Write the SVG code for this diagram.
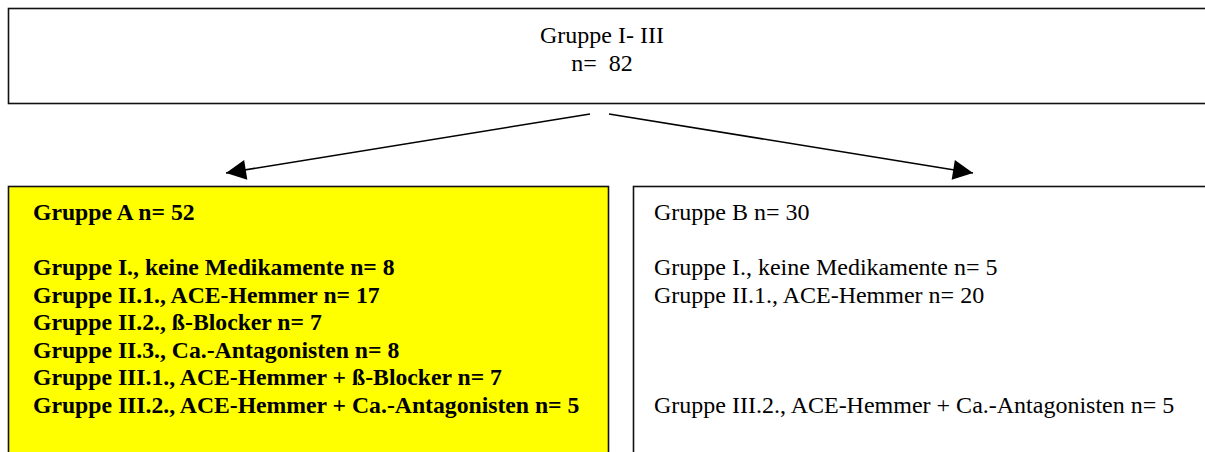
<svg xmlns="http://www.w3.org/2000/svg" width="1205" height="452" viewBox="0 0 1205 452">
  <style>
    .box { stroke: #111; stroke-width: 1.6; }
    .t { font-family: "Liberation Serif", "Times New Roman", serif; font-size: 24px; fill: #000; }
    .b { font-weight: bold; font-size: 23.7px; }
    .edge { stroke: #000; stroke-width: 1.6; fill: none; }
  </style>
  <defs>
    <marker id="head" viewBox="0 0 10 10" refX="10" refY="5" markerWidth="27" markerHeight="20" markerUnits="userSpaceOnUse" orient="auto">
      <path d="M0,0 L10,5 L0,10 Z" fill="#000"/>
    </marker>
  </defs>

  <!-- total group -->
  <g id="gruppe-gesamt">
    <rect class="box" x="8.5" y="8.5" width="1210" height="95" fill="#fff"/>
    <text class="t" x="602" y="43" text-anchor="middle">Gruppe I- III</text>
    <text class="t" x="602" y="71" text-anchor="middle" xml:space="preserve">n=  82</text>
  </g>

  <!-- group A -->
  <g id="gruppe-a">
    <rect class="box" x="8.5" y="186.5" width="600" height="280" fill="#ffff00"/>
    <text class="t b" x="33" y="220">Gruppe A n= 52</text>
    <text class="t b" x="33" y="275">Gruppe I., keine Medikamente n= 8</text>
    <text class="t b" x="33" y="303">Gruppe II.1., ACE-Hemmer n= 17</text>
    <text class="t b" x="33" y="330">Gruppe II.2., ß-Blocker n= 7</text>
    <text class="t b" x="33" y="358">Gruppe II.3., Ca.-Antagonisten n= 8</text>
    <text class="t b" x="33" y="385">Gruppe III.1., ACE-Hemmer + ß-Blocker n= 7</text>
    <text class="t b" x="33" y="413">Gruppe III.2., ACE-Hemmer + Ca.-Antagonisten n= 5</text>
  </g>

  <!-- group B -->
  <g id="gruppe-b">
    <rect class="box" x="633.5" y="186.5" width="600" height="280" fill="#fff"/>
    <text class="t" x="654" y="220">Gruppe B n= 30</text>
    <text class="t" x="654" y="275">Gruppe I., keine Medikamente n= 5</text>
    <text class="t" x="654" y="303">Gruppe II.1., ACE-Hemmer n= 20</text>
    <text class="t" x="654" y="413">Gruppe III.2., ACE-Hemmer + Ca.-Antagonisten n= 5</text>
  </g>

  <!-- connectors -->
  <g id="connectors">
    <line class="edge" x1="590" y1="114" x2="226" y2="173" marker-end="url(#head)"/>
    <line class="edge" x1="609" y1="114" x2="973" y2="173" marker-end="url(#head)"/>
  </g>
</svg>
